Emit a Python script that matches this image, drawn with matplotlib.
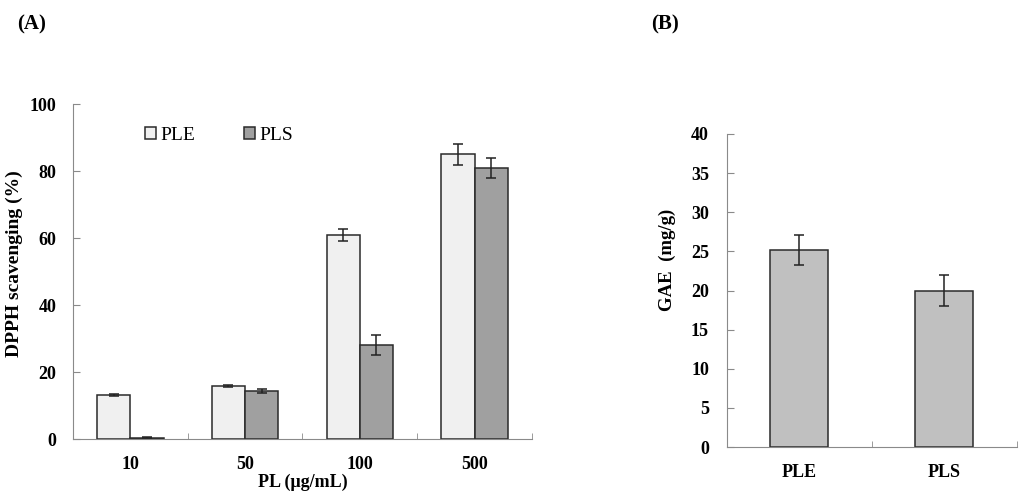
import numpy as np
import matplotlib.pyplot as plt

# Panel A: DPPH scavenging
doses = ['10', '50', '100', '500']
ple_dpph = [13.0, 15.8, 61.0, 85.0]
ple_dpph_err = [0.3, 0.4, 1.8, 3.2]
pls_dpph = [0.4, 14.3, 28.0, 81.0]
pls_dpph_err = [0.1, 0.5, 3.0, 3.0]

# Panel B: total phenolics
samples = ['PLE', 'PLS']
gae = [25.2, 20.0]
gae_err = [1.9, 2.0]

plt.rcParams['font.family'] = ['Liberation Serif', 'DejaVu Serif']

fig = plt.figure(figsize=(10.35, 4.93), dpi=100)
axA = fig.add_axes([0.0705, 0.1095, 0.4435, 0.6795])
axB = fig.add_axes([0.7024, 0.0933, 0.2802, 0.6349])

spine_col = '#8a8a8a'
edge_col = '#2a2a2a'

# ---- panel A
x = np.arange(len(doses))
w = 0.29
axA.bar(x - w / 2, ple_dpph, w, yerr=ple_dpph_err, color='#f0f0f0',
        edgecolor=edge_col, linewidth=1.1, capsize=3.5,
        error_kw=dict(ecolor='#222222', elinewidth=1.1, capthick=1.1),
        label='PLE')
axA.bar(x + w / 2, pls_dpph, w, yerr=pls_dpph_err, color='#a0a0a0',
        edgecolor=edge_col, linewidth=1.1, capsize=3.5,
        error_kw=dict(ecolor='#222222', elinewidth=1.1, capthick=1.1),
        label='PLS')

axA.set_xlim(-0.5, len(doses) - 0.5)
axA.set_ylim(0, 100)
axA.set_yticks(np.arange(0, 101, 20))
axA.set_xticks(x)
axA.set_xticklabels(doses)
axA.set_xticks(np.arange(0.5, len(doses), 1.0), minor=True)
axA.tick_params(axis='x', which='major', length=0, pad=12)
axA.tick_params(axis='x', which='minor', direction='in', length=4, color=spine_col)
axA.tick_params(axis='y', direction='in', length=5, color=spine_col, pad=12)
for lab in axA.get_xticklabels() + axA.get_yticklabels():
    lab.set_fontsize(13)
    lab.set_fontweight('bold')
axA.set_ylabel('DPPH scavenging (%)', fontsize=14, fontweight='bold')
axA.yaxis.set_label_coords(-0.108, 0.525)
axA.set_xlabel('PL (\u03bcg/mL)', fontsize=13, fontweight='bold', labelpad=1)
axA.legend(loc='upper left', bbox_to_anchor=(0.118, 0.985), ncol=2, frameon=False,
           handlelength=0.6, handleheight=0.6, handletextpad=0.2,
           columnspacing=2.5, prop={'size': 14})

# ---- panel B
xb = np.arange(len(samples))
axB.bar(xb, gae, 0.4, yerr=gae_err, color='#c0c0c0', edgecolor=edge_col,
        linewidth=1.1, capsize=3.5,
        error_kw=dict(ecolor='#222222', elinewidth=1.1, capthick=1.1))
axB.set_xlim(-0.5, len(samples) - 0.5)
axB.set_ylim(0, 40)
axB.set_yticks(np.arange(0, 41, 5))
axB.set_xticks(xb)
axB.set_xticklabels(samples)
axB.set_xticks(np.arange(0.5, len(samples), 1.0), minor=True)
axB.tick_params(axis='x', which='major', length=0, pad=12)
axB.tick_params(axis='x', which='minor', direction='in', length=4, color=spine_col)
axB.tick_params(axis='y', direction='in', length=5, color=spine_col, pad=13)
for lab in axB.get_xticklabels() + axB.get_yticklabels():
    lab.set_fontsize(13)
    lab.set_fontweight('bold')
axB.set_ylabel('GAE  (mg/g)', fontsize=13.5, fontweight='bold')
axB.yaxis.set_label_coords(-0.175, 0.597)

for ax in (axA, axB):
    ax.spines['top'].set_visible(False)
    ax.spines['right'].set_visible(False)
    ax.spines['left'].set_color(spine_col)
    ax.spines['bottom'].set_color(spine_col)

fig.text(0.017, 0.95, '(A)', fontsize=15, fontweight='bold', va='center')
fig.text(0.629, 0.95, '(B)', fontsize=15, fontweight='bold', va='center')

fig.savefig('out.png', dpi=100)
